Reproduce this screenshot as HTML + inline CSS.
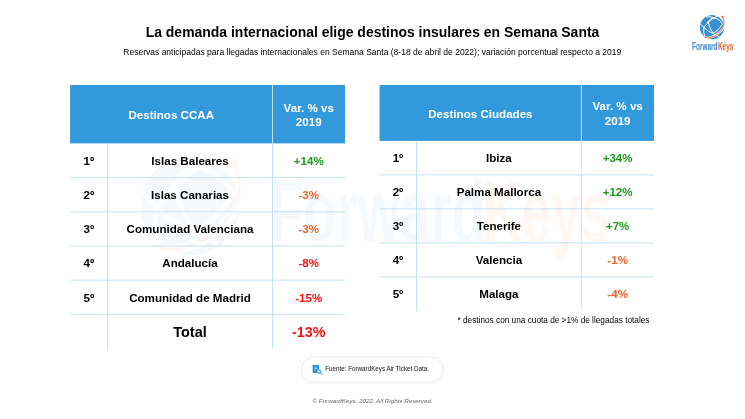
<!DOCTYPE html>
<html lang="es">
<head>
<meta charset="utf-8">
<title>La demanda internacional elige destinos insulares en Semana Santa</title>
<style>
html,body{margin:0;padding:0;background:#fff;}
body{width:745px;height:419px;position:relative;overflow:hidden;font-family:"Liberation Sans",Arial,sans-serif;color:#000;}
svg#gfx{position:absolute;left:0;top:0;}
.abs{position:absolute;white-space:nowrap;}
#title{left:145.7px;top:22.4px;font-size:13.96px;font-weight:bold;line-height:20px;}
#sub{left:123.3px;top:45px;font-size:8.52px;line-height:14px;}
.c{position:absolute;text-align:center;font-weight:bold;font-size:11.6px;line-height:14px;height:14px;white-space:nowrap;}
.w{color:#fff;}
.g{color:#1a9a1a;}
.o{color:#f0642d;}
.r{color:#ff1010;}
#note{left:457.5px;top:315px;font-size:8.25px;line-height:12px;}
#src{left:325.2px;top:364.3px;font-size:6.27px;line-height:9px;color:#111;}
#foot{left:312.5px;top:396px;font-size:6.24px;line-height:9px;font-style:italic;color:#666;}
.wm{position:absolute;white-space:nowrap;transform-origin:0 0;line-height:1;}
#lgF{left:692px;top:40.9px;font-size:10.9px;font-weight:bold;color:#3a8bd0;transform:scaleX(0.595);}
#lgK{left:717.5px;top:40.9px;font-size:10.9px;font-weight:bold;color:#ee5a24;transform:scaleX(0.587);}
#wmF{left:269.5px;top:166.8px;font-size:87px;font-weight:bold;color:#4a97d6;opacity:0.05;transform:scaleX(0.627);}
#wmK{left:482.7px;top:166.8px;font-size:87px;font-weight:bold;color:#ee5a24;opacity:0.042;transform:scaleX(0.613);}
</style>
</head>
<body>
<svg id="gfx" width="745" height="419" viewBox="0 0 745 419">
<!-- watermark globe -->
<use href="#logo" transform="translate(190 206) scale(4.1) translate(-712 -27.2)" opacity="0.042"/>
<!-- tables -->
<rect x="70.1" y="85.0" width="274.90" height="58.38" fill="#3399dd"/>
<line x1="272.5" y1="85.0" x2="272.5" y2="348.52" stroke="#c3e1f5" stroke-width="1"/>
<line x1="107.55" y1="143.38" x2="107.55" y2="348.52" stroke="#c3e1f5" stroke-width="1"/>
<line x1="70.1" y1="177.57" x2="345.0" y2="177.57" stroke="#c3e1f5" stroke-width="1"/>
<line x1="70.1" y1="211.76" x2="345.0" y2="211.76" stroke="#c3e1f5" stroke-width="1"/>
<line x1="70.1" y1="245.95" x2="345.0" y2="245.95" stroke="#c3e1f5" stroke-width="1"/>
<line x1="70.1" y1="280.14" x2="345.0" y2="280.14" stroke="#c3e1f5" stroke-width="1"/>
<line x1="70.1" y1="314.33" x2="345.0" y2="314.33" stroke="#c3e1f5" stroke-width="1"/>
<rect x="379.5" y="85.0" width="274.50" height="55.90" fill="#3399dd"/>
<line x1="581.3" y1="85.0" x2="581.3" y2="310.90" stroke="#c3e1f5" stroke-width="1"/>
<line x1="416.5" y1="140.9" x2="416.5" y2="310.90" stroke="#c3e1f5" stroke-width="1"/>
<line x1="379.5" y1="174.90" x2="654.0" y2="174.90" stroke="#c3e1f5" stroke-width="1"/>
<line x1="379.5" y1="208.90" x2="654.0" y2="208.90" stroke="#c3e1f5" stroke-width="1"/>
<line x1="379.5" y1="242.90" x2="654.0" y2="242.90" stroke="#c3e1f5" stroke-width="1"/>
<line x1="379.5" y1="276.90" x2="654.0" y2="276.90" stroke="#c3e1f5" stroke-width="1"/>
<!-- logo -->
<g id="logo">
<circle cx="712" cy="27.2" r="12.1" fill="#3a8fd2"/>
<g fill="none" stroke="#fff" stroke-width="1" stroke-linecap="round">
<path d="M700.6 24.2 L703.9 27.5 L708.2 22.2 L713.6 17.9 L717 16.4"/>
<path d="M708.2 22.2 Q710.2 17.5 713.6 17.9 Q719.5 18.6 722.6 24.2"/>
<path d="M708.2 22.2 Q709.5 28.5 713.3 33.6"/>
<path d="M703.9 27.5 Q708 31.5 713.3 33.6 L718.5 36.4"/>
<path d="M703.9 27.5 Q703 32 704.5 36"/>
<path d="M713.6 17.9 Q710 16 706.5 16.8"/>
<path d="M713.3 33.6 Q718 31 722.6 24.2"/>
</g>
<g fill="#fff"><circle cx="708.2" cy="22.2" r="0.9"/><circle cx="703.9" cy="27.5" r="0.9"/><circle cx="713.6" cy="17.9" r="0.8"/><circle cx="713.3" cy="33.6" r="0.8"/></g>
<path d="M724.6 21.5 C725.3 26.5 721.5 31.2 716.5 34.7 C712.2 37.6 708 38.3 705 37.4" fill="none" stroke="#fff" stroke-width="2.2" stroke-linecap="butt"/>
<path d="M722.6 17 C726.3 23.5 722.5 30.5 716.5 34.7 C712.2 37.6 708 38.3 705 37.4" fill="none" stroke="#ee5a24" stroke-width="0.9" stroke-linecap="round"/>
<circle cx="722.5" cy="16.8" r="1.1" fill="#ee5a24"/>
</g>
<!-- source pill -->
<rect x="301.3" y="357.2" width="142.2" height="25.6" rx="12.8" fill="#fff" stroke="#e6e6e6" stroke-width="0.8"/>
<g id="ico">
<rect x="312.7" y="365" width="6.2" height="7.9" rx="0.6" fill="#1f8de0"/>
<path d="M314.3 367.3 H316.6 M314.3 368.6 H317.2 M314.3 369.9 H315.8" stroke="#bfe0f8" stroke-width="0.7" fill="none"/>
<circle cx="319" cy="371.5" r="2.4" fill="#fff"/>
<circle cx="319" cy="371.5" r="1.75" fill="#e4f2fc" stroke="#1f8de0" stroke-width="1"/>
<path d="M320.5 373 L321.7 374.3" stroke="#1f8de0" stroke-width="1" stroke-linecap="round"/>
</g>
</svg>

<div id="wmF" class="wm">Forward</div><div id="wmK" class="wm">Keys</div>

<div id="title" class="abs">La demanda internacional elige destinos insulares en Semana Santa</div>
<div id="sub" class="abs">Reservas anticipadas para llegadas internacionales en Semana Santa (8-18 de abril de 2022); variación porcentual respecto a 2019</div>

<div id="lgF" class="wm">Forward</div><div id="lgK" class="wm">Keys</div>

<div class="c w" style="left:70.1px;width:202.40px;top:108px;">Destinos CCAA</div>
<div class="c w" style="left:272.5px;width:72.50px;top:101px;">Var. % vs</div>
<div class="c w" style="left:272.5px;width:72.50px;top:115px;">2019</div>
<div class="c" style="left:70.1px;width:37.45px;top:154px;">1º</div>
<div class="c" style="left:107.55px;width:164.95px;top:154px;">Islas Baleares</div>
<div class="c g" style="left:272.5px;width:72.50px;top:154px;">+14%</div>
<div class="c" style="left:70.1px;width:37.45px;top:188px;">2º</div>
<div class="c" style="left:107.55px;width:164.95px;top:188px;">Islas Canarias</div>
<div class="c o" style="left:272.5px;width:72.50px;top:188px;">-3%</div>
<div class="c" style="left:70.1px;width:37.45px;top:222px;">3º</div>
<div class="c" style="left:107.55px;width:164.95px;top:222px;">Comunidad Valenciana</div>
<div class="c o" style="left:272.5px;width:72.50px;top:222px;">-3%</div>
<div class="c" style="left:70.1px;width:37.45px;top:256px;">4º</div>
<div class="c" style="left:107.55px;width:164.95px;top:256px;">Andalucía</div>
<div class="c r" style="left:272.5px;width:72.50px;top:256px;">-8%</div>
<div class="c" style="left:70.1px;width:37.45px;top:291px;">5º</div>
<div class="c" style="left:107.55px;width:164.95px;top:291px;">Comunidad de Madrid</div>
<div class="c r" style="left:272.5px;width:72.50px;top:291px;">-15%</div>
<div class="c" style="left:107.55px;width:164.95px;top:323px;font-size:14.5px;line-height:18px;height:18px;">Total</div>
<div class="c r" style="left:272.5px;width:72.50px;top:323px;font-size:14.3px;line-height:18px;height:18px;">-13%</div>

<div class="c w" style="left:379.5px;width:201.80px;top:107px;">Destinos Ciudades</div>
<div class="c w" style="left:581.3px;width:72.70px;top:99px;">Var. % vs</div>
<div class="c w" style="left:581.3px;width:72.70px;top:114px;">2019</div>
<div class="c" style="left:379.5px;width:37.00px;top:151px;">1º</div>
<div class="c" style="left:416.5px;width:164.80px;top:151px;">Ibiza</div>
<div class="c g" style="left:581.3px;width:72.70px;top:151px;">+34%</div>
<div class="c" style="left:379.5px;width:37.00px;top:185px;">2º</div>
<div class="c" style="left:416.5px;width:164.80px;top:185px;">Palma Mallorca</div>
<div class="c g" style="left:581.3px;width:72.70px;top:185px;">+12%</div>
<div class="c" style="left:379.5px;width:37.00px;top:219px;">3º</div>
<div class="c" style="left:416.5px;width:164.80px;top:219px;">Tenerife</div>
<div class="c g" style="left:581.3px;width:72.70px;top:219px;">+7%</div>
<div class="c" style="left:379.5px;width:37.00px;top:253px;">4º</div>
<div class="c" style="left:416.5px;width:164.80px;top:253px;">Valencia</div>
<div class="c o" style="left:581.3px;width:72.70px;top:253px;">-1%</div>
<div class="c" style="left:379.5px;width:37.00px;top:287px;">5º</div>
<div class="c" style="left:416.5px;width:164.80px;top:287px;">Malaga</div>
<div class="c o" style="left:581.3px;width:72.70px;top:287px;">-4%</div>

<div id="note" class="abs">* destinos con una cuota de &gt;1% de llegadas totales</div>
<div id="src" class="abs">Fuente: ForwardKeys Air Ticket Data.</div>
<div id="foot" class="abs">© ForwardKeys, 2022. All Rights Reserved.</div>
</body>
</html>
